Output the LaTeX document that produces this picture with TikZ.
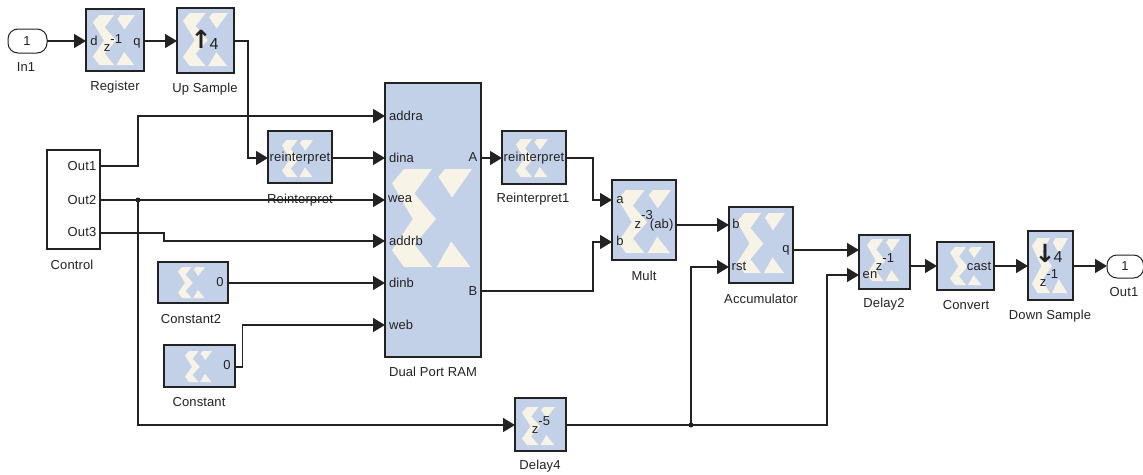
\documentclass[tikz,border=0pt]{standalone}
\usepackage{fontspec}
\setmainfont[LetterSpace=1]{Liberation Sans}
\newfontfamily\arrowfont{DejaVu Sans}
\usetikzlibrary{arrows.meta,calc}
\definecolor{blockblue}{HTML}{C3D1E8}
\definecolor{logocream}{HTML}{F7F3E6}
\definecolor{ink}{HTML}{222222}
\newcommand{\xlogo}[4]{%
  \begin{scope}[shift={(#1,#2)},x=#3pt,y=-#4pt]
    \fill[logocream] (.15,0)--(.5,0)--(.28,.25)--(.55,.51)--(.28,.77)--(.5,1)--(.15,1)--(0,.83)--(.26,.51)--(0,.145)--cycle;
    \fill[logocream] (.66,0)--(1,0)--(.75,.29)--(.58,.08)--cycle;
    \fill[logocream] (.74,.74)--(.98,1)--(.56,1)--cycle;
  \end{scope}}
\newcommand{\blk}[6][blockstyle]{%
  \pgfmathsetmacro{\bw}{#5-#3}\pgfmathsetmacro{\bh}{#6-#4}%
  \pgfmathsetmacro{\bx}{(#5+#3)/2}\pgfmathsetmacro{\by}{(#6+#4)/2}%
  \node[#1,minimum width=\bw pt,minimum height=\bh pt] (#2) at (\bx,\by) {};}
\newcommand{\zpow}[1]{z\raisebox{8.5pt}{#1}}
\tikzset{
  x=1pt,y=-1pt,
  blockstyle/.style={draw=ink,line width=1.3pt,fill=blockblue,rectangle,inner sep=0pt,outer sep=0pt},
  plainbox/.style={draw=ink,line width=1.3pt,fill=white,rectangle,inner sep=0pt,outer sep=0pt},
  portbox/.style={draw=ink,line width=1pt,fill=white,rectangle,rounded corners=10pt,inner sep=0pt,outer sep=0pt},
  txt/.style={font=\fontsize{13}{13}\selectfont,text=ink,inner sep=0pt,outer sep=0pt},
  txtl/.style={txt,anchor=west},
  wire/.style={draw=ink,line width=1.3pt,-{Triangle[length=12pt,width=14pt]}},
  dot/.style={circle,fill=ink,inner sep=0pt,minimum size=5pt},
  bigarrow/.style={font=\arrowfont\bfseries\fontsize{25}{25}\selectfont,text=ink,inner sep=0pt,outer sep=0pt},
  bigdigit/.style={font=\fontsize{16}{16}\selectfont,text=ink,inner sep=0pt,outer sep=0pt}
}
\begin{document}
\begin{tikzpicture}
\useasboundingbox[fill=white] (0,0) rectangle (1143,474);
% blocks
\blk[portbox]{inone}{8}{29}{47}{53}
\blk{reg}{86}{9}{144}{71}
\blk{up}{177}{8}{234}{73}
\blk[plainbox]{ctrl}{47}{150}{100}{249}
\blk{reint}{268}{131}{332}{183}
\blk{ram}{385}{83}{481}{357}
\blk{reintb}{502}{131}{566}{184}
\blk{mult}{612}{180}{676}{260}
\blk{acc}{729}{207}{793}{283}
\blk{delaytwo}{859}{235}{910}{289}
\blk{conv}{937}{242}{994}{290}
\blk{down}{1028}{231}{1073}{300}
\blk[portbox]{outone}{1107}{255}{1143.5}{278}
\blk{consttwo}{158}{262}{228}{303}
\blk{const}{164}{345}{235}{387}
\blk{delayfour}{515}{398}{566}{451}
% logos
\xlogo{93}{15}{42}{50}
\xlogo{183}{13}{45}{53}
\xlogo{282}{140}{31}{37}
\xlogo{392}{169}{80}{98}
\xlogo{516}{139}{32}{38}
\xlogo{618}{190}{53}{63}
\xlogo{737}{213}{48}{60}
\xlogo{867}{239}{33}{42}
\xlogo{950}{247}{32}{38}
\xlogo{1032}{238}{36}{55}
\xlogo{178}{267}{27}{31}
\xlogo{185}{351}{27}{31}
\xlogo{522}{407}{33}{38}
% named ports and bends
\coordinate (ctrlone) at (100,166);
\coordinate (ctrltwo) at (100,200);
\coordinate (ctrlthree) at (100,233);
\coordinate (addra) at (385,116);
\coordinate (dina) at (385,158);
\coordinate (wea) at (385,200);
\coordinate (addrb) at (385,241);
\coordinate (dinb) at (385,283);
\coordinate (web) at (385,325);
\coordinate (portA) at (481,158);
\coordinate (portB) at (481,291);
\coordinate (multa) at (612,200);
\coordinate (multb) at (612,242);
\coordinate (accb) at (729,225);
\coordinate (accr) at (729,267);
\coordinate (accq) at (793,250);
\coordinate (delq) at (859,250);
\coordinate (delen) at (859,275);
\coordinate (dfin) at (515,425);
\coordinate (dfout) at (566,425);
% labels
\node[txt] (tinone) at (27,41) {1};
\node[txt] (linone) at (26,67) {In1};
\node[txt] (td) at (94,41) {d};
\node[txt] (tz) at (113,43) {\zpow{-1}};
\node[txt] (tq) at (137,43) {q};
\node[txt] (lreg) at (115,87) {Register};
\node[bigarrow] (tupa) at (201,39) {↑};
\node[bigdigit] (tupd) at (214,44) {4};
\node[txt] (lup) at (205,89) {Up Sample};
\node[txt] (to1) at (82,166) {Out1};
\node[txt] (to2) at (82,200) {Out2};
\node[txt] (to3) at (82,232) {Out3};
\node[txt] (lctrl) at (72,265) {Control};
\node[txt] (tre) at (300,158) {reinterpret};
\node[txt] (lre) at (300,200) {Reinterpret};
\node[txtl] (taddra) at (389,116) {addra};
\node[txtl] (tdina) at (389,158) {dina};
\node[txtl] (twea) at (388,199) {wea};
\node[txtl] (taddrb) at (389,241) {addrb};
\node[txtl] (tdinb) at (389,283) {dinb};
\node[txtl] (tweb) at (389,325) {web};
\node[txt] (tA) at (473,157) {A};
\node[txt] (tB) at (473,291) {B};
\node[txt] (lram) at (433,372) {Dual Port RAM};
\node[txt] (treb) at (534,158) {reinterpret};
\node[txt] (lreb) at (533,199) {Reinterpret1};
\node[txt] (ta) at (620,200) {a};
\node[txt] (tb) at (620,241) {b};
\node[txt] (tmz) at (654,221) {\zpow{-3}\hspace{-3pt}(ab)};
\node[txt] (lmult) at (644,276) {Mult};
\node[txt] (tab) at (736,224) {b};
\node[txt] (tar) at (739,266) {rst};
\node[txt] (taq) at (786,250) {q};
\node[txt] (lacc) at (761,299) {Accumulator};
\node[txt] (ten) at (870,275) {en};
\node[txt] (tdz) at (885,262) {\zpow{-1}};
\node[txt] (ldel) at (884,304) {Delay2};
\node[txt] (tcast) at (979,266) {cast};
\node[txt] (lconv) at (966,305) {Convert};
\node[bigarrow] (tdna) at (1045,253) {↓};
\node[bigdigit] (tdnd) at (1058,257) {4};
\node[txt] (tdnz) at (1049,278) {\zpow{-1}};
\node[txt] (ldown) at (1050,316) {Down Sample};
\node[txt] (toutone) at (1125,266) {1};
\node[txt] (loutone) at (1124,292) {Out1};
\node[txt] (tctwo) at (220,282) {0};
\node[txt] (lctwo) at (191,319) {Constant2};
\node[txt] (tc) at (227,365) {0};
\node[txt] (lc) at (199,402) {Constant};
\node[txt] (tdf) at (541,425) {\zpow{-5}};
\node[txt] (ldf) at (540,466) {Delay4};
% wires
\draw[wire] (inone.east) -- (inone.east -| reg.west);
\draw[wire] (reg.east |- inone.east) -- (inone.east -| up.west);
\draw[wire] (up.east |- inone.east) -- (248,41) -- (248,158) -- (268,158);
\draw[wire] (ctrlone) -- (138,166) -- (138,116) -- (addra);
\draw[wire] (reint.east |- dina) -- (dina);
\draw[wire] (ctrltwo) -- (wea);
\node[dot] (jone) at (138,200) {};
\draw[wire] (jone.center) -- (jone |- dfin) -- (dfin);
\draw[wire] (ctrlthree) -- (164,233) -- (164,241) -- (addrb);
\draw[wire] (consttwo.east |- dinb) -- (dinb);
\draw[wire] (const.east |- 0,367) -- (242.5,367) -- (242.5,325) -- (web);
\draw[wire] (portA) -- (reintb.west |- portA);
\draw[wire] (reintb.east |- portA) -- (593,158) -- (593,200) -- (multa);
\draw[wire] (portB) -- (593,291) -- (593,242) -- (multb);
\draw[wire] (mult.east |- accb) -- (accb);
\draw[wire] (accq) -- (delq);
\draw[wire] (dfout) -- (827,425) -- (827,275) -- (delen);
\node[dot] (jtwo) at (691,425) {};
\draw[wire] (jtwo.center) -- (jtwo |- accr) -- (accr);
\draw[wire] (delaytwo.east |- 0,266) -- (conv.west |- 0,266);
\draw[wire] (conv.east |- 0,266) -- (down.west |- 0,266);
\draw[wire] (down.east |- 0,266) -- (outone.west |- 0,266);
\end{tikzpicture}
\end{document}
